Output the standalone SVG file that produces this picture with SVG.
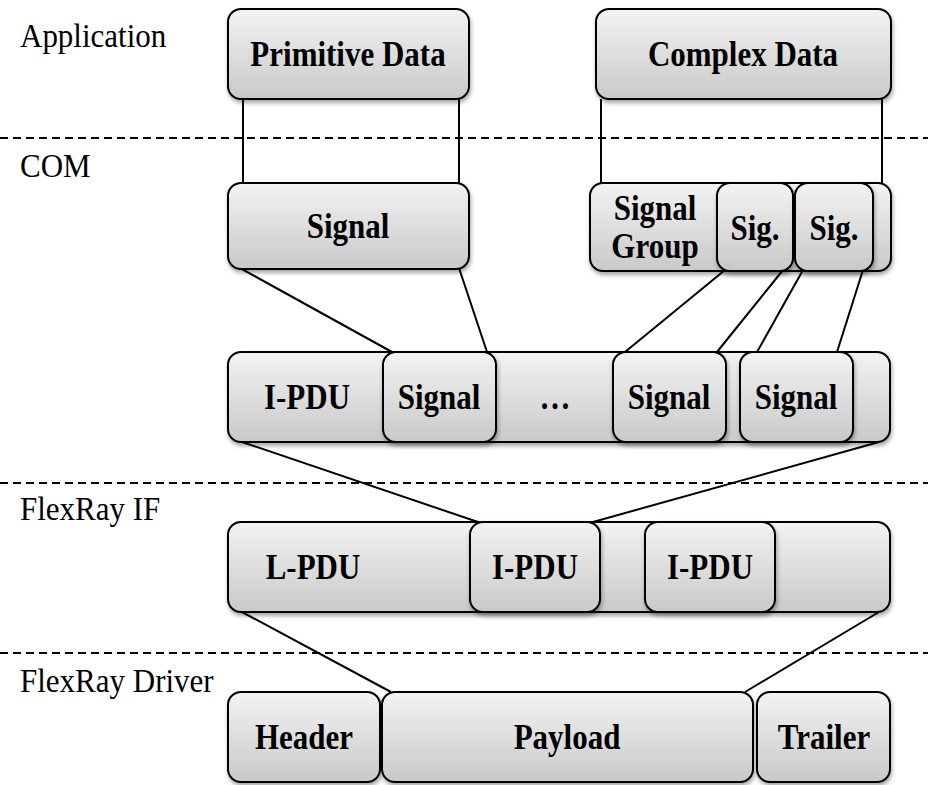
<svg xmlns="http://www.w3.org/2000/svg" width="928" height="785" viewBox="0 0 928 785">
<style>
.box{fill:url(#g);stroke:#000;stroke-width:2;filter:url(#sh)}
.t{font-family:"Liberation Serif","Times New Roman",serif;font-weight:bold;font-size:31px;fill:#000;text-anchor:middle}
.lbl{font-family:"Liberation Serif","Times New Roman",serif;font-size:31px;fill:#000}
.dash{stroke:#000;stroke-width:2;stroke-dasharray:8 5;fill:none}
.c{stroke:#000;stroke-width:2;fill:none}
</style>
<defs>
<linearGradient id="g" x1="0" y1="0" x2="0" y2="1">
<stop offset="0" stop-color="#f3f3f3"/>
<stop offset="1" stop-color="#c9c9c9"/>
</linearGradient>
<filter id="sh" x="-10%" y="-10%" width="120%" height="130%">
<feDropShadow dx="1" dy="3" stdDeviation="2" flood-color="#000" flood-opacity="0.35"/>
</filter>
</defs>
<g id="layer-labels">
<text class="lbl" transform="translate(20,47) scale(1,1.08)">Application</text>
<text class="lbl" transform="translate(20,177) scale(1,1.08)">COM</text>
<text class="lbl" transform="translate(20,520) scale(1,1.08)">FlexRay IF</text>
<text class="lbl" transform="translate(20,692) scale(1,1.08)">FlexRay Driver</text>
</g>
<g id="separators">
<line class="dash" x1="0" y1="138" x2="928" y2="138"/>
<line class="dash" x1="0" y1="483" x2="928" y2="483"/>
<line class="dash" x1="0" y1="653" x2="928" y2="653"/>
</g>
<g id="connectors">
<line class="c" x1="243" y1="99" x2="243" y2="183"/>
<line class="c" x1="459" y1="99" x2="459" y2="183"/>
<line class="c" x1="601" y1="99" x2="601" y2="183"/>
<line class="c" x1="882" y1="99" x2="882" y2="183"/>
<line class="c" x1="240" y1="268" x2="392" y2="352"/>
<line class="c" x1="459" y1="268" x2="487" y2="352"/>
<line class="c" x1="725" y1="270" x2="625" y2="352"/>
<line class="c" x1="783" y1="270" x2="717" y2="352"/>
<line class="c" x1="803" y1="270" x2="757" y2="352"/>
<line class="c" x1="863" y1="270" x2="837" y2="352"/>
<line class="c" x1="242" y1="442" x2="478" y2="522"/>
<line class="c" x1="879" y1="442" x2="593" y2="522"/>
<line class="c" x1="242" y1="612" x2="391" y2="692"/>
<line class="c" x1="879" y1="612" x2="745" y2="692"/>
</g>
<g id="primitive-data">
<rect class="box" x="228" y="9" width="241" height="90" rx="13"/>
<text class="t" transform="translate(348,66) scale(1,1.15)">Primitive Data</text>
</g>
<g id="complex-data">
<rect class="box" x="596" y="9" width="295" height="90" rx="13"/>
<text class="t" transform="translate(743,66) scale(1,1.15)">Complex Data</text>
</g>
<g id="com-signal">
<rect class="box" x="228" y="183" width="241" height="86" rx="13"/>
<text class="t" transform="translate(348,238) scale(1,1.15)">Signal</text>
</g>
<g id="signal-group">
<rect class="box" x="590" y="183" width="301" height="88" rx="13"/>
<text class="t" transform="translate(655,220) scale(1,1.15)">Signal</text>
<text class="t" transform="translate(655,258) scale(1,1.15)">Group</text>
</g>
<g id="sig-1">
<rect class="box" x="717" y="183" width="76" height="88" rx="13"/>
<text class="t" transform="translate(755,240) scale(1,1.15)">Sig.</text>
</g>
<g id="sig-2">
<rect class="box" x="795" y="183" width="78" height="88" rx="13"/>
<text class="t" transform="translate(834,240) scale(1,1.15)">Sig.</text>
</g>
<g id="ipdu-row">
<rect class="box" x="228" y="352" width="662" height="90" rx="13"/>
<text class="t" transform="translate(307,409) scale(1,1.15)">I-PDU</text>
<text class="t" transform="translate(555,409) scale(1,1.15)">…</text>
</g>
<g id="ipdu-signal-1">
<rect class="box" x="383" y="352" width="113" height="90" rx="13"/>
<text class="t" transform="translate(439,409) scale(1,1.15)">Signal</text>
</g>
<g id="ipdu-signal-2">
<rect class="box" x="613" y="352" width="113" height="90" rx="13"/>
<text class="t" transform="translate(669,409) scale(1,1.15)">Signal</text>
</g>
<g id="ipdu-signal-3">
<rect class="box" x="740" y="352" width="113" height="90" rx="13"/>
<text class="t" transform="translate(796,409) scale(1,1.15)">Signal</text>
</g>
<g id="lpdu-row">
<rect class="box" x="228" y="522" width="662" height="90" rx="13"/>
<text class="t" transform="translate(313,579) scale(1,1.15)">L-PDU</text>
</g>
<g id="lpdu-ipdu-1">
<rect class="box" x="470" y="522" width="130" height="90" rx="13"/>
<text class="t" transform="translate(535,579) scale(1,1.15)">I-PDU</text>
</g>
<g id="lpdu-ipdu-2">
<rect class="box" x="645" y="522" width="130" height="90" rx="13"/>
<text class="t" transform="translate(710,579) scale(1,1.15)">I-PDU</text>
</g>
<g id="header">
<rect class="box" x="228" y="692" width="152" height="90" rx="13"/>
<text class="t" transform="translate(304,749) scale(1,1.15)">Header</text>
</g>
<g id="payload">
<rect class="box" x="382" y="692" width="371" height="90" rx="13"/>
<text class="t" transform="translate(567,749) scale(1,1.15)">Payload</text>
</g>
<g id="trailer">
<rect class="box" x="757" y="692" width="133" height="90" rx="13"/>
<text class="t" transform="translate(824,749) scale(1,1.15)">Trailer</text>
</g>
</svg>
